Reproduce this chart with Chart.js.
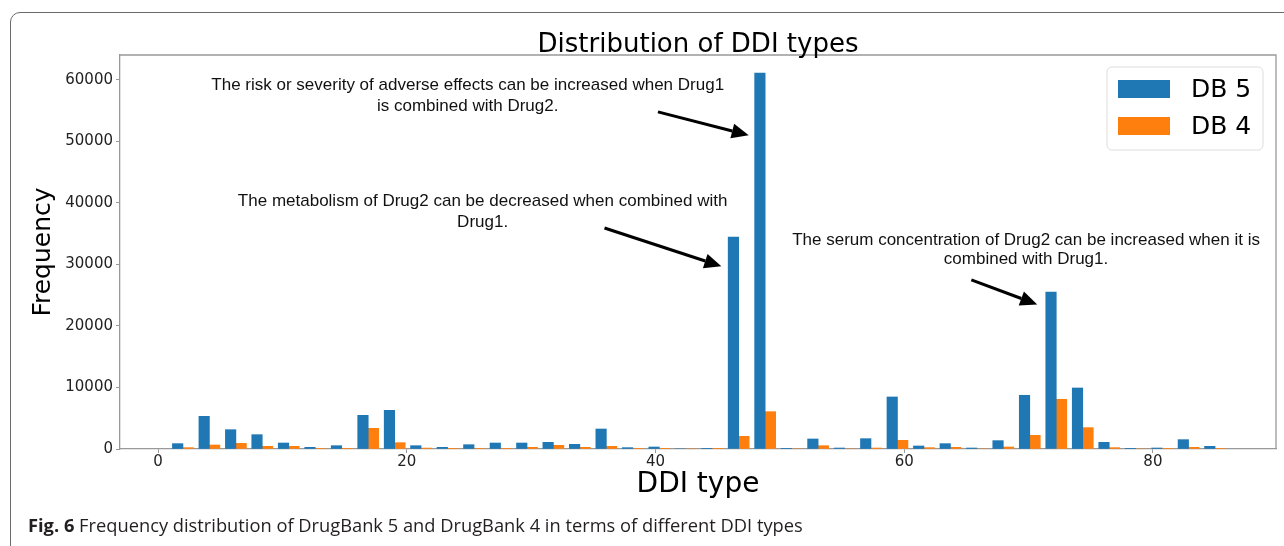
<!DOCTYPE html>
<html lang="en">
<head>
  <meta charset="UTF-8" />
  <title>Distribution of DDI types</title>
  <style>
    body{margin:0;background:#fff;width:1284px;height:546px;overflow:hidden;position:relative}
    #frame{position:absolute;left:10px;top:12px;width:1320px;height:600px;border:1.5px solid #6a6a6a;border-radius:10px;box-sizing:border-box}
    #chart{position:absolute;left:0;top:0}
    #caption{position:absolute;left:28px;top:514px;font-family:"Open Sans",sans-serif;font-size:18.3px;line-height:22px;color:#231f20;white-space:nowrap}
    #caption b{font-weight:700}
  </style>
</head>
<body>
  <div id="frame"></div>
  <canvas id="chart" width="1284" height="546"></canvas>
  <div id="caption"><b>Fig. 6</b> Frequency distribution of DrugBank 5 and DrugBank 4 in terms of different DDI types</div>

  <script src="https://cdn.jsdelivr.net/npm/chart.js"></script>
  <script>
  // ---- data ----
  const ddiType = [2.00, 4.13, 6.26, 8.38, 10.51, 12.64, 14.77, 16.90, 19.03, 21.15,
                   23.28, 25.41, 27.54, 29.67, 31.79, 33.92, 36.05, 38.18, 40.31, 42.44,
                   44.56, 46.69, 48.82, 50.95, 53.08, 55.21, 57.33, 59.46, 61.59, 63.72,
                   65.85, 67.97, 70.10, 72.23, 74.36, 76.49, 78.62, 80.74, 82.87, 85.00];
  const db5 = [870, 5310, 3140, 2330, 975, 270, 540, 5470, 6290, 540,
               270, 700, 975, 975, 1080, 760, 3250, 220, 325, 0,
               50, 34450, 61100, 110, 1630, 160, 1680, 8460, 490, 870,
               160, 1360, 8730, 25500, 9920, 1080, 50, 160, 1520, 430];
  const db4 = [220, 650, 920, 430, 430, 100, 50, 3360, 1030, 150,
               50, 100, 30, 270, 600, 270, 430, 50, 50, 0,
               30, 2060, 6070, 0, 540, 0, 160, 1410, 220, 270,
               0, 325, 2220, 8080, 3470, 220, 0, 100, 270, 100];
  const seriesNames = ['DB 5', 'DB 4'];
  const xTicks = [0, 20, 40, 60, 80];
  const yTicks = [0, 10000, 20000, 30000, 40000, 50000, 60000];
  const chartTitle = 'Distribution of DDI types';

  // annotation notes: text lines + arrow, in data units
  const notes = [
    {x: 24.9, y: [59190, 55770],
     lines: ['The risk or severity of adverse effects can be increased when Drug1', 'is combined with Drug2.'],
     from: [40.2, 54800], to: [47.5, 51000]},
    {x: 26.1, y: [40320, 36910],
     lines: ['The metabolism of Drug2 can be decreased when combined with', 'Drug1.'],
     from: [35.9, 35930], to: [45.3, 29700]},
    {x: 69.8, y: [33980, 30890],
     lines: ['The serum concentration of Drug2 can be increased when it is', 'combined with Drug1.'],
     from: [65.4, 27480], to: [70.7, 23500]}
  ];

  const BLUE = '#1f77b4', ORANGE = '#ff7f0e', AXIS = '#999';
  const FONT = '"DejaVu Sans", sans-serif';

  const extras = {
    id: 'extras',
    afterDraw(chart){
      const c = chart.ctx, a = chart.chartArea, xs = chart.scales.x, ys = chart.scales.y;
      c.save();
      // top + right spines
      c.strokeStyle = AXIS; c.lineWidth = 1.3;
      c.beginPath();
      c.moveTo(a.left, a.top); c.lineTo(a.right, a.top); c.lineTo(a.right, a.bottom);
      c.stroke();

      // title centred over the axes
      c.fillStyle = '#000'; c.font = '26px ' + FONT;
      c.textAlign = 'center'; c.textBaseline = 'middle';
      c.fillText(chartTitle, (a.left + a.right) / 2, 45);

      // notes
      c.font = '17px "Liberation Sans", Arial, sans-serif';
      notes.forEach(n => {
        c.fillStyle = '#111';
        n.lines.forEach((t, i) => c.fillText(t, xs.getPixelForValue(n.x), ys.getPixelForValue(n.y[i])));
        const x0 = xs.getPixelForValue(n.from[0]), y0 = ys.getPixelForValue(n.from[1]);
        const x1 = xs.getPixelForValue(n.to[0]),   y1 = ys.getPixelForValue(n.to[1]);
        const ang = Math.atan2(y1 - y0, x1 - x0), hl = 17, hw = 7.5;
        const bx = x1 - hl * Math.cos(ang), by = y1 - hl * Math.sin(ang);
        c.strokeStyle = '#000'; c.lineWidth = 3;
        c.beginPath(); c.moveTo(x0, y0); c.lineTo(bx, by); c.stroke();
        c.fillStyle = '#000';
        c.beginPath();
        c.moveTo(x1, y1);
        c.lineTo(bx + hw * Math.sin(ang), by - hw * Math.cos(ang));
        c.lineTo(bx - hw * Math.sin(ang), by + hw * Math.cos(ang));
        c.closePath(); c.fill();
      });

      // legend box (inside, upper right)
      const lx = 1107, ly = 67, lw = 156, lh = 83;
      c.fillStyle = 'rgba(255,255,255,0.85)'; c.strokeStyle = '#ddd'; c.lineWidth = 1;
      c.beginPath(); c.roundRect(lx, ly, lw, lh, 5); c.fill(); c.stroke();
      [BLUE, ORANGE].forEach((col, i) => {
        const cy = 89 + i * 37;
        c.fillStyle = col; c.fillRect(1118, cy - 9, 52, 18);
        c.fillStyle = '#000'; c.font = '25px ' + FONT; c.textAlign = 'left';
        c.fillText(seriesNames[i], 1191, cy + 1);
      });
      c.restore();
    }
  };

  const mk = vals => vals.map((v, i) => ({x: ddiType[i], y: v}));

  new Chart(document.getElementById('chart'), {
    type: 'bar',
    data: {
      datasets: [
        {label: seriesNames[0], data: mk(db5), backgroundColor: BLUE},
        {label: seriesNames[1], data: mk(db4), backgroundColor: ORANGE}
      ]
    },
    options: {
      responsive: false, animation: false, devicePixelRatio: 1,
      layout: {padding: {left: 20, right: 8, top: 55, bottom: 40}},
      datasets: {bar: {barThickness: 10.5, grouped: true, borderWidth: 0}},
      plugins: {legend: {display: false}, tooltip: {enabled: false}, title: {display: false}},
      scales: {
        x: {type: 'linear', min: -3.06, max: 89.9, offset: false,
            afterFit: s => { s.height = 57; },
            afterBuildTicks: s => { s.ticks = xTicks.map(v => ({value: v})); },
            ticks: {color: '#222', font: {family: FONT, size: 15}, padding: 0, includeBounds: false,
                    maxRotation: 0, autoSkip: false, callback: v => String(v)},
            grid: {display: true, offset: false, drawOnChartArea: false, drawTicks: true, tickLength: 4, tickColor: AXIS},
            border: {display: true, color: AXIS, width: 1.3},
            title: {display: true, text: 'DDI type', color: '#000', font: {family: FONT, size: 28}, padding: {top: 4, bottom: 4}}},
        y: {min: 0, max: 64050,
            afterFit: s => { s.width = 100; },
            afterBuildTicks: s => { s.ticks = yTicks.map(v => ({value: v})); },
            ticks: {color: '#222', font: {family: FONT, size: 15}, padding: 3, includeBounds: false,
                    autoSkip: false, callback: v => String(v)},
            grid: {display: true, drawOnChartArea: false, drawTicks: true, tickLength: 4, tickColor: AXIS},
            border: {display: true, color: AXIS, width: 1.3},
            title: {display: true, text: 'Frequency', color: '#000', font: {family: FONT, size: 25}, padding: {top: 8, bottom: 0}}}
      }
    },
    plugins: [extras]
  });
  </script>
</body>
</html>
